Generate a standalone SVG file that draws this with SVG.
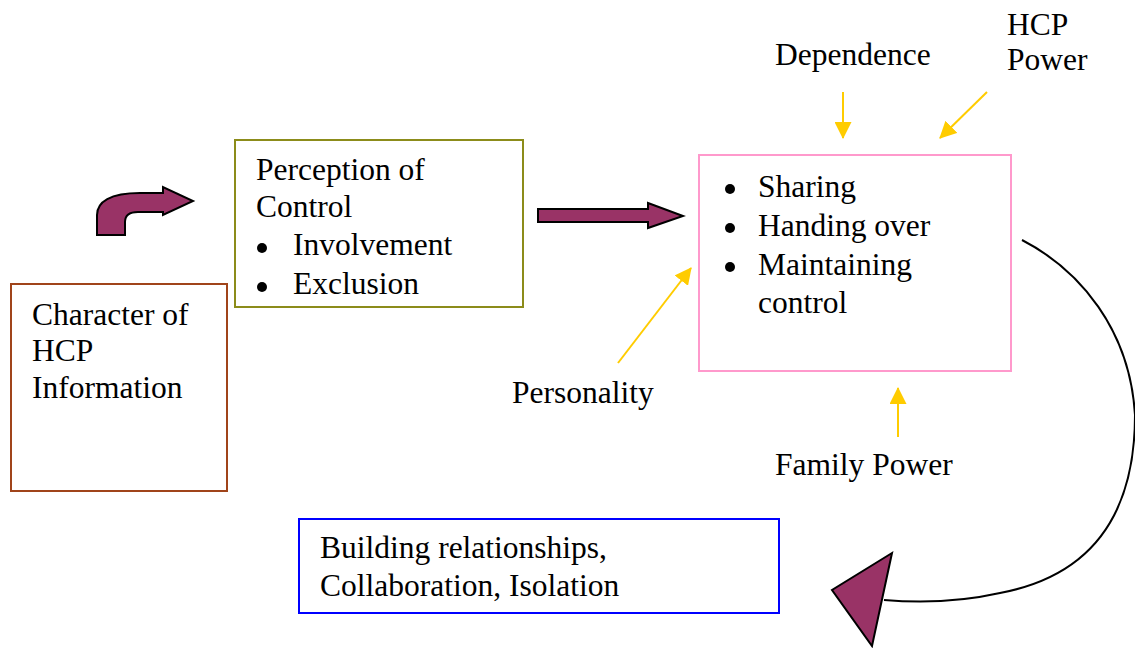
<svg xmlns="http://www.w3.org/2000/svg" width="1135" height="648" viewBox="0 0 1135 648">
<style>
text { font-family: "Liberation Serif", "Times New Roman", serif; font-size: 31.5px; fill: #000; }
.box { fill: #fff; stroke-width: 2; }
.bul { fill: #000; }
.plum { fill: #993366; stroke: #000; stroke-width: 2; stroke-linejoin: miter; }
.yel { fill: none; stroke: #FFCC00; stroke-width: 2; marker-end: url(#yh); }
</style>
<defs>
<marker id="yh" viewBox="0 0 16 16" refX="15" refY="8" markerWidth="17" markerHeight="17" markerUnits="userSpaceOnUse" orient="auto">
<path d="M0,0 L16,8 L0,16 Z" fill="#FFCC00"/>
</marker>
</defs>
<rect width="1135" height="648" fill="#fff"/>

<g id="character">
<rect class="box" x="11" y="284" width="216" height="207" stroke="#A0441A"/>
<text x="32" y="325">Character of</text>
<text x="32" y="361">HCP</text>
<text x="32" y="398">Information</text>
</g>

<g id="perception">
<rect class="box" x="235" y="140" width="288" height="167" stroke="#8C8C1A"/>
<text x="256" y="180">Perception of</text>
<text x="256" y="217">Control</text>
<circle class="bul" cx="262" cy="248" r="5"/>
<text x="293" y="255">Involvement</text>
<circle class="bul" cx="262" cy="287" r="5"/>
<text x="293" y="294">Exclusion</text>
</g>

<g id="control">
<rect class="box" x="699" y="155" width="312" height="216" stroke="#FF99CC"/>
<circle class="bul" cx="730" cy="189" r="5"/>
<text x="758" y="197">Sharing</text>
<circle class="bul" cx="730" cy="228" r="5"/>
<text x="758" y="236">Handing over</text>
<circle class="bul" cx="730" cy="267" r="5"/>
<text x="758" y="275">Maintaining</text>
<text x="758" y="313">control</text>
</g>

<g id="outcome">
<rect class="box" x="299" y="519" width="480" height="94" stroke="#0000FF"/>
<text x="320" y="558">Building relationships,</text>
<text x="320" y="596">Collaboration, Isolation</text>
</g>

<g id="dependence"><text x="775" y="65">Dependence</text></g>
<g id="hcp-power"><text x="1007" y="35">HCP</text><text x="1007" y="70">Power</text></g>
<g id="personality"><text x="512" y="403">Personality</text></g>
<g id="family-power"><text x="775" y="475">Family Power</text></g>

<g id="connectors">
<path class="plum" d="M97,235 L97,215 C97,202 110,193 140,193 L163,193 L163,187 L193,201 L163,215 L163,212 L138,212 C129,212 125,215 125,222 L125,235 Z"/>
<path class="plum" d="M538,209 L648,209 L648,203 L683,216 L648,228 L648,222 L538,222 Z"/>
<line class="yel" x1="843" y1="92" x2="843" y2="138"/>
<line class="yel" x1="987" y1="92" x2="940" y2="138"/>
<line class="yel" x1="618" y1="363" x2="691" y2="268"/>
<line class="yel" x1="898" y1="437" x2="898" y2="388"/>
<path d="M1022,240 C1080,270 1130,330 1135,415 C1135,510 1095,575 1000,593 C960,602 920,603 884,600" fill="none" stroke="#000" stroke-width="2"/>
<path class="plum" d="M892,553 L832,590 L872,646 Z"/>
</g>
</svg>
